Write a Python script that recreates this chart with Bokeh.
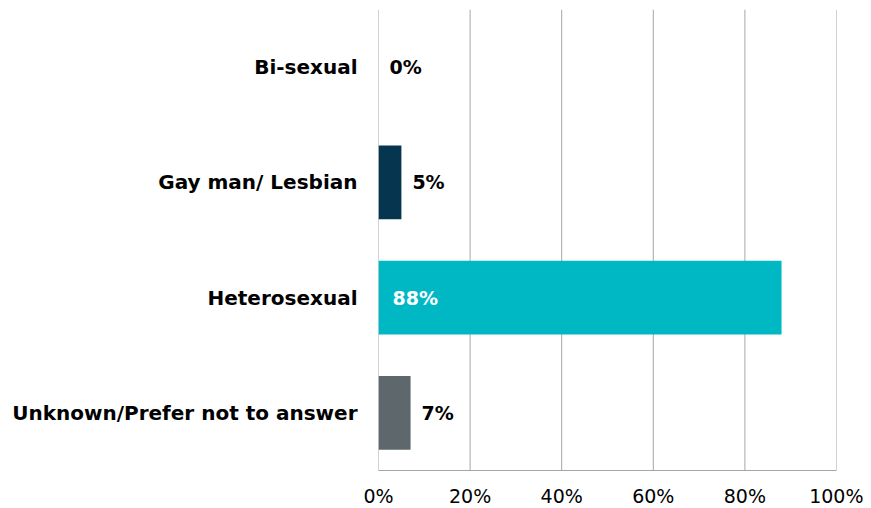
from bokeh.plotting import figure
from bokeh.models import ColumnDataSource, FixedTicker, PrintfTickFormatter, FactorRange, Range1d, Span
from bokeh.core.properties import value
from bokeh.embed import file_html
from bokeh.resources import INLINE

categories = ["Bi-sexual", "Gay man/ Lesbian", "Heterosexual", "Unknown/Prefer not to answer"]
values = [0, 5, 88, 7]
colors = ["#06354f", "#06354f", "#00b8c4", "#5e676b"]
labels = ["0%", "5%", "88%", "7%"]
x_ticks = [0, 20, 40, 60, 80, 100]

FONT = "DejaVu Sans"

src = ColumnDataSource(dict(cat=categories, val=values, color=colors))

p = figure(frame_width=458, frame_height=461, output_backend="svg", toolbar_location=None,
           y_range=FactorRange(*list(reversed(categories))), x_range=Range1d(0, 100),
           min_border_left=378, min_border_right=27, min_border_top=9, min_border_bottom=30)
p.outline_line_color = None
p.background_fill_color = "white"

# vertical gridlines (including the ones at the range edges)
for t in x_ticks:
    p.add_layout(Span(location=t, dimension="height", line_color="#a6a6a6", line_width=1, level="underlay"))

p.hbar(y="cat", right="val", left=0, height=0.64, fill_color="color", line_color=None, source=src)

# value labels
out_idx = [i for i, v in enumerate(values) if v < 50]
in_idx = [i for i, v in enumerate(values) if v >= 50]
out_src = ColumnDataSource(dict(cat=[categories[i] for i in out_idx], val=[values[i] for i in out_idx],
                                lab=[labels[i] for i in out_idx]))
in_src = ColumnDataSource(dict(cat=[categories[i] for i in in_idx], val=[0 for i in in_idx],
                               lab=[labels[i] for i in in_idx]))
p.text(x="val", y="cat", text="lab", source=out_src, x_offset=11, text_align="left",
       text_baseline="middle", text_font=value(FONT), text_font_style="bold",
       text_font_size="19px", text_color="black")
p.text(x="val", y="cat", text="lab", source=in_src, x_offset=14, text_align="left",
       text_baseline="middle", text_font=value(FONT), text_font_style="bold",
       text_font_size="19px", text_color="white")

p.xaxis.ticker = FixedTicker(ticks=x_ticks)
p.xaxis.formatter = PrintfTickFormatter(format="%d%%")
p.xaxis.major_tick_line_color = None
p.xaxis.minor_tick_line_color = None
p.xaxis.axis_line_color = "#a6a6a6"
p.xaxis.major_label_text_font = FONT
p.xaxis.major_label_text_font_size = "19px"
p.xaxis.major_label_text_color = "black"
p.xaxis.major_label_standoff = 8

p.yaxis.axis_line_color = None
p.yaxis.major_tick_line_color = None
p.yaxis.minor_tick_line_color = None
p.yaxis.major_label_text_font = FONT
p.yaxis.major_label_text_font_style = "bold"
p.yaxis.major_label_text_font_size = "20px"
p.yaxis.major_label_text_color = "black"
p.yaxis.major_label_standoff = 15

p.xgrid.grid_line_color = None
p.ygrid.grid_line_color = None

open("out.html", "w").write(file_html(p, INLINE))
